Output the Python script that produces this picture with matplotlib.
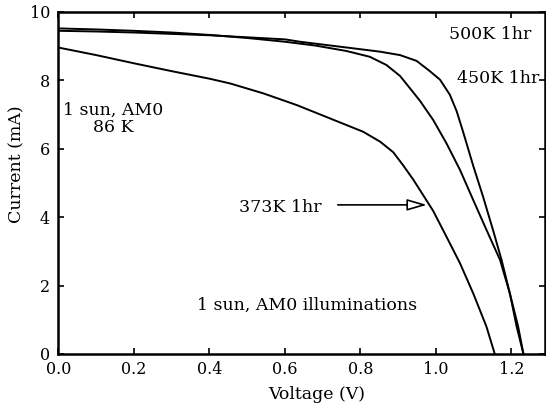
import matplotlib.pyplot as plt

# I-V curves (voltage in V, current in mA)
v_373 = [0.0, 0.1, 0.2, 0.3, 0.4, 0.455, 0.543, 0.631, 0.719, 0.807, 0.852, 0.887,
         0.913, 0.94, 0.966, 0.993, 1.028, 1.064, 1.099, 1.134, 1.156]
i_373 = [8.96, 8.74, 8.50, 8.27, 8.05, 7.91, 7.62, 7.28, 6.89, 6.50, 6.21, 5.90,
         5.52, 5.10, 4.65, 4.18, 3.43, 2.65, 1.77, 0.80, 0.0]

v_450 = [0.0, 0.1, 0.2, 0.3, 0.4, 0.5, 0.6, 0.68, 0.763, 0.825, 0.869, 0.905,
         0.94, 0.958, 0.993, 1.028, 1.064, 1.099, 1.134, 1.17, 1.196, 1.218, 1.232]
i_450 = [9.52, 9.49, 9.45, 9.40, 9.33, 9.24, 9.13, 9.02, 8.86, 8.69, 8.45, 8.13,
         7.65, 7.40, 6.84, 6.16, 5.38, 4.50, 3.63, 2.75, 1.77, 0.80, 0.0]

v_500 = [0.0, 0.1, 0.2, 0.3, 0.4, 0.5, 0.6, 0.64, 0.772, 0.852, 0.905, 0.949,
         0.984, 1.011, 1.037, 1.055, 1.072, 1.099, 1.125, 1.152, 1.174, 1.196, 1.214, 1.232]
i_500 = [9.45, 9.43, 9.40, 9.36, 9.32, 9.26, 9.20, 9.13, 8.95, 8.84, 8.74, 8.57,
         8.27, 8.02, 7.58, 7.10, 6.50, 5.50, 4.60, 3.60, 2.75, 1.77, 0.80, 0.0]

x_ticks = [0.0, 0.2, 0.4, 0.6, 0.8, 1.0, 1.2]
y_ticks = [0, 2, 4, 6, 8, 10]

plt.rcParams['font.family'] = ['DejaVu Serif']

fig = plt.figure(figsize=(5.46, 4.04), dpi=100)
ax = fig.add_axes([0.1071, 0.1238, 0.891, 0.8465])

ax.plot(v_373, i_373, color='black', lw=1.4)
ax.plot(v_450, i_450, color='black', lw=1.4)
ax.plot(v_500, i_500, color='black', lw=1.4)

ax.set_xlim(0, 1.289)
ax.set_ylim(0, 10)
ax.set_xticks(x_ticks)
ax.set_yticks(y_ticks)
ax.set_xticklabels(['%.1f' % t for t in x_ticks])
ax.tick_params(direction='in', length=4, width=1.2, labelsize=11.5, pad=5,
               top=True, right=True)
ax.tick_params(axis='y', pad=6)
for s in ax.spines.values():
    s.set_linewidth(1.8)

ax.set_xlabel('Voltage (V)', fontsize=12.5)
ax.set_ylabel('Current (mA)', fontsize=12.5)
ax.xaxis.set_label_coords(0.531, -0.094)
ax.yaxis.set_label_coords(-0.069, 0.556)

ax.text(1.143, 9.33, '500K 1hr', fontsize=12.5, ha='center', va='center')
ax.text(1.164, 8.06, '450K 1hr', fontsize=12.5, ha='center', va='center')
ax.text(0.144, 6.87, '1 sun, AM0\n86 K', fontsize=12.5, ha='center', va='center',
        linespacing=1.0)
ax.text(0.589, 4.27, '373K 1hr', fontsize=12.5, ha='center', va='center')
ax.text(0.659, 1.43, '1 sun, AM0 illuminations', fontsize=12.5, ha='center', va='center')
ax.annotate('', xy=(0.976, 4.36), xytext=(0.74, 4.36),
            arrowprops=dict(arrowstyle='-|>,head_length=1.2,head_width=0.35',
                            mutation_scale=10, fc='white', ec='black', lw=1.2,
                            shrinkA=0, shrinkB=0))

plt.savefig('out.png', dpi=100)
